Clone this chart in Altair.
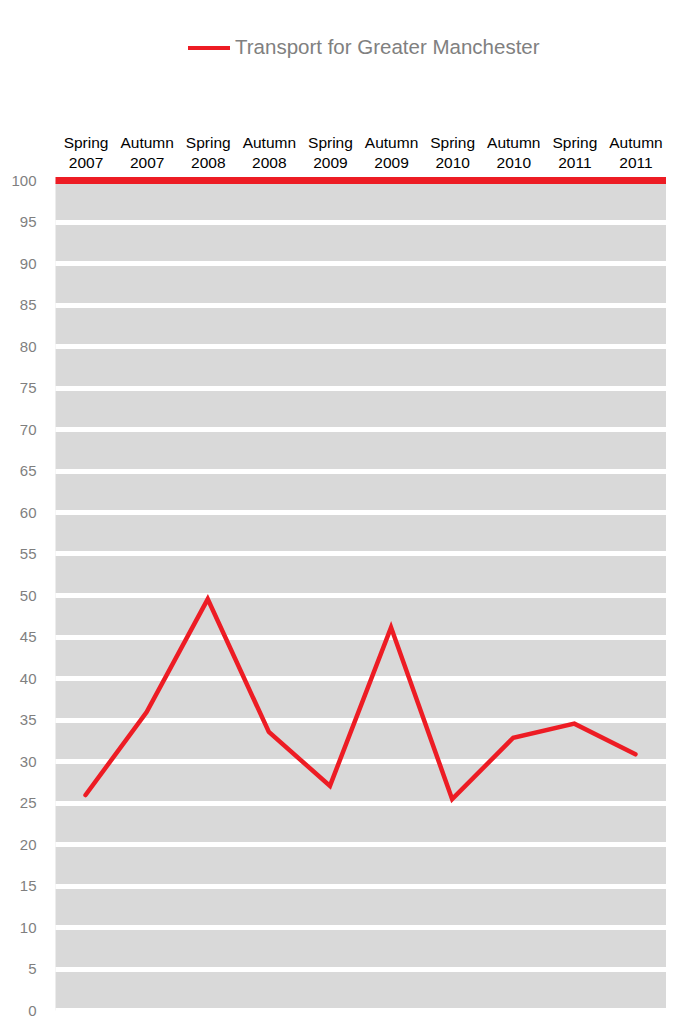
import altair as alt
import pandas as pd

periods = ["Spring 2007", "Autumn 2007", "Spring 2008", "Autumn 2008", "Spring 2009",
           "Autumn 2009", "Spring 2010", "Autumn 2010", "Spring 2011", "Autumn 2011"]
values = [25.9, 35.9, 49.5, 33.5, 27.0, 46.1, 25.4, 32.8, 34.5, 30.8]
series_name = "Transport for Greater Manchester"
y_ticks = list(range(0, 101, 5))

df = pd.DataFrame({"period": periods, "value": values, "series": [series_name] * len(periods)})

RED = "#ed1c24"
FONT = "Liberation Sans, Arial, sans-serif"

chart = alt.Chart(df).mark_line(strokeWidth=4.5, strokeCap="round").encode(
    x=alt.X(
        "period:N",
        sort=periods,
        scale=alt.Scale(type="point", padding=0.5),
        axis=alt.Axis(
            orient="top", title=None, labelAngle=0, ticks=False, grid=False,
            labelExpr="split(datum.label, ' ')",
            labelFont=FONT, labelFontSize=15.5, labelColor="#000000",
            labelLineHeight=20, labelPadding=30,
            domainColor=RED, domainWidth=7, zindex=1,
        ),
    ),
    y=alt.Y(
        "value:Q",
        scale=alt.Scale(domain=[0, 100], nice=False),
        axis=alt.Axis(
            values=y_ticks, title=None, ticks=False, domain=False,
            labelFont=FONT, labelFontSize=15, labelColor="#7f7f7f",
            labelPadding=19, grid=True, gridColor="#ffffff", gridWidth=5,
        ),
    ),
    color=alt.Color(
        "series:N",
        scale=alt.Scale(range=[RED]),
        legend=alt.Legend(
            title=None, orient="none", legendX=131, legendY=-155,
            symbolType="stroke", symbolSize=1764, symbolStrokeWidth=4,
            labelFont=FONT, labelFontSize=20.5, labelLimit=500,
            labelColor="#808080", labelOffset=3, padding=0,
        ),
    ),
).properties(
    width=611,
    height=830,
    autosize="none",
    padding={"left": 47, "top": 172, "right": 0, "bottom": 8},
).configure_view(fill="#d9d9d9", stroke="transparent")

chart.save("out.html", embed_options={"renderer": "svg", "actions": False})
